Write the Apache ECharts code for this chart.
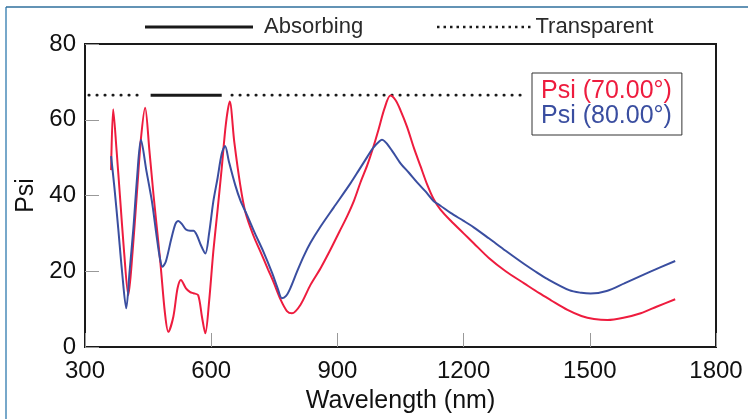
<!DOCTYPE html>
<html>
<head>
<meta charset="utf-8">
<script src="https://cdn.jsdelivr.net/npm/echarts@6/dist/echarts.min.js"></script>
<style>
html,body{margin:0;padding:0;background:#fff;}
#c{width:748px;height:419px;}
</style>
</head>
<body>
<div id="c"></div>
<script>
// Wavelength (nm) and Psi values
const wl70 = [362,367,375,383,393,403,413,423,433,443,453,463,479,490,498,510,520,528,540,550,558,569,578,586,595,605,615,625,635,644,655,669,681,700,717,735,748,765,780,792,812,836,860,883,905,923,940,955,971,986,998,1012,1026,1038,1050,1066,1082,1098,1113,1129,1145,1169,1200,1224,1260,1300,1344,1380,1407,1447,1480,1510,1542,1580,1621,1660,1703];
const psi70 = [46.7,62.8,52,40,25,13.7,25,40,55,63.2,52,40,22.5,9,4.0,8,15.5,17.7,15.5,14.5,14.2,13.7,8,3.6,12,25.2,36,47.2,59,64.8,54,42.8,35.7,29.5,25.2,20.5,17.2,12.5,9.5,8.9,11.1,16.4,20.8,25.6,30.5,34.5,38.8,43.5,48,53,57.5,63,66.4,65.2,62.5,58,52.5,47.6,43,39,36.3,33.4,30.0,27.4,23.5,20,16.8,14.2,12.4,9.8,8.2,7.4,7.1,7.7,8.9,10.7,12.6];

const wl80 = [362,370,379,388,398,406,415,424,433,446,459,470,478,484,492,505,515,522,530,540,550,558,566,575,586,595,605,615,625,633,642,657,670,685,704,724,745,758,768,778,788,804,820,836,860,891,931,950,971,985,1000,1006,1025,1050,1070,1090,1110,1129,1145,1169,1200,1224,1260,1300,1344,1367,1400,1451,1480,1502,1540,1582,1640,1703];
const psi80 = [50.4,42,31.3,20,10.2,20,31.3,45,54.7,46.5,38.5,29.5,23.5,21.2,22.5,28.5,32.5,33.3,32.5,31,30.7,30.7,29.5,27,24.7,30,38.4,44.5,51,53.1,49,42.8,38.5,34.9,30,25.2,19.5,15.5,12.9,13.5,15.5,19.9,24,27.5,31.8,36.8,43.2,46.5,50.2,52.6,54.3,54.7,52.6,48.5,46,43.4,41,38.5,37.3,35.4,33.3,31.6,28.7,25.4,21.9,20.2,17.9,15.0,14.3,14.1,14.8,16.8,19.7,22.7];

// Absorbing / Transparent marker bars
const markLevel = 66.5;
const absorbingX = [456, 625];
const transparentX = [[309, 440], [649, 1338]];

const tickX = [300, 600, 900, 1200, 1500, 1800];
const tickY = [0, 20, 40, 60, 80];

const RED = '#ee1c3e';
const BLUE = '#3a4ea0';
const FONT = "'Liberation Sans', Arial, sans-serif";

const zip = (xs, ys) => xs.map((x, i) => [x, ys[i]]);
const transData = [];
transparentX.forEach((seg, i) => {
  if (i > 0) transData.push([seg[0] - 1, null]);
  transData.push([seg[0], markLevel], [seg[1], markLevel]);
});

// legend icons (style only)
const solidIcon = 'path://M0,0H108V3H0Z';
let dotPath = '';
for (let i = 0; i < 15; i++) dotPath += 'M' + (i * 6.5) + ',0h2.5v2.5h-2.5Z';
const dotIcon = 'path://' + dotPath;

const chart = echarts.init(document.getElementById('c'), null, {renderer: 'canvas'});
chart.setOption({
  animation: false,
  backgroundColor: '#fff',
  textStyle: {fontFamily: FONT},
  grid: {left: 85, right: 32, top: 44, bottom: 72, show: true, borderColor: '#1a1a1a', borderWidth: 2, containLabel: false},
  graphic: [
    {type: 'line', shape: {x1: 6, y1: 7, x2: 6, y2: 419}, style: {stroke: '#4a8bb8', lineWidth: 1.5}},
    {type: 'line', shape: {x1: 6, y1: 7, x2: 748, y2: 7}, style: {stroke: '#2f6f9c', lineWidth: 1.5}}
  ],
  legend: [
    {data: [{name: 'Absorbing', icon: solidIcon}], left: 140, top: 11, itemWidth: 108, itemHeight: 3, selectedMode: false,
     formatter: ' {name}', textStyle: {fontSize: 22, color: '#2a2a2a', fontFamily: FONT}},
    {data: [{name: 'Transparent', icon: dotIcon}], left: 432, top: 11, itemWidth: 93.5, itemHeight: 2.5, selectedMode: false,
     textStyle: {fontSize: 22, color: '#2a2a2a', fontFamily: FONT}},
    {data: [{name: 'Psi (70.00°)', textStyle: {color: RED}}, {name: 'Psi (80.00°)', textStyle: {color: BLUE}}],
     orient: 'vertical', left: 532, top: 73, icon: 'none', itemWidth: 0, itemHeight: 25, itemGap: 0,
     padding: [6, 10, 6, 4], borderColor: '#333', borderWidth: 1, selectedMode: false,
     textStyle: {fontSize: 25, lineHeight: 25, fontFamily: FONT}}
  ],
  xAxis: {
    type: 'value', min: tickX[0], max: tickX[tickX.length - 1], interval: 300,
    name: 'Wavelength (nm)', nameLocation: 'middle', nameGap: 42,
    nameTextStyle: {fontSize: 25, color: '#111', fontFamily: FONT},
    axisLine: {show: true, lineStyle: {color: '#1a1a1a', width: 2}},
    axisTick: {show: true, inside: true, length: 14, lineStyle: {color: '#999', width: 1}},
    axisLabel: {fontSize: 24, color: '#111', margin: 12, fontFamily: FONT, formatter: v => String(v)},
    splitLine: {show: false}
  },
  yAxis: {
    type: 'value', min: tickY[0], max: tickY[tickY.length - 1], interval: 20,
    name: 'Psi', nameLocation: 'middle', nameGap: 43,
    nameTextStyle: {fontSize: 25, color: '#111', fontFamily: FONT},
    axisLine: {show: true, lineStyle: {color: '#1a1a1a', width: 2}},
    axisTick: {show: true, inside: true, length: 14, lineStyle: {color: '#999', width: 1}},
    axisLabel: {fontSize: 24, color: '#111', margin: 9, fontFamily: FONT, formatter: v => String(v)},
    splitLine: {show: false}
  },
  series: [
    {name: 'Absorbing', type: 'line', symbol: 'none', silent: true,
     data: absorbingX.map(x => [x, markLevel]),
     lineStyle: {color: '#1a1a1a', width: 3}, itemStyle: {color: '#1a1a1a'}},
    {name: 'Transparent', type: 'line', symbol: 'none', silent: true, connectNulls: false,
     data: transData,
     lineStyle: {color: '#1a1a1a', width: 2.6, type: [0.5, 7.5], cap: 'round'}, itemStyle: {color: '#1a1a1a'}},
    {name: 'Psi (70.00°)', type: 'line', symbol: 'none', smooth: 0.3, data: zip(wl70, psi70),
     lineStyle: {color: RED, width: 2}, itemStyle: {color: RED}},
    {name: 'Psi (80.00°)', type: 'line', symbol: 'none', smooth: 0.3, data: zip(wl80, psi80),
     lineStyle: {color: BLUE, width: 2}, itemStyle: {color: BLUE}}
  ]
});
</script>
</body>
</html>
